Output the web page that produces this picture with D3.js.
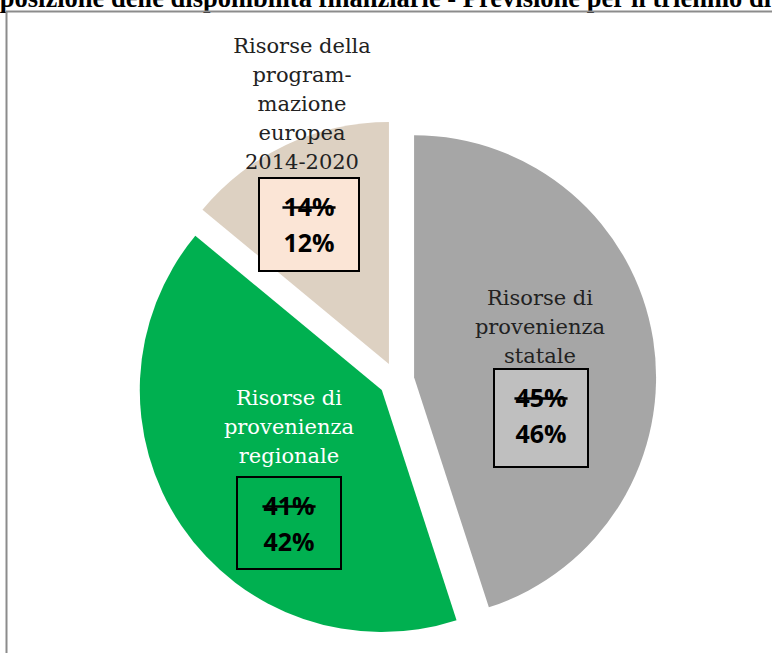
<html>
<script src='https://d3js.org/d3.v7.min.js'></script>
<style>
body {margin:0; background:#fff;}
.lbl {font-family:'DejaVu Serif', serif; font-size:21px; text-anchor:middle;}
.pct {font-family:'Open Sans', sans-serif; font-weight:bold; font-size:25px; text-anchor:middle; fill:#000;}
</style>
<body onload='init()'>
<svg width=772 height=653></svg>
<script>
// data
var categories = ['statale', 'regionale', 'europea']
var oldShares = [45, 41, 14]   // the slices are drawn from these
var newShares = [46, 42, 12]
var labelLines = [
  ['Risorse di', 'provenienza', 'statale'],
  ['Risorse di', 'provenienza', 'regionale'],
  ['Risorse della', 'program-', 'mazione', 'europea', '2014-2020']
]
var colors = ['#a6a6a6', '#00b050', '#ddd1c2']
var boxFill = ['#bfbfbf', '#00b050', '#fbe5d6']
var textFill = ['#222', '#fff', '#222']

function init() {
  var svg = d3.select('svg')
  var cx = 396.5, cy = 380, r = 242, explode = 17.8

  // title, clipped at the top of the window as in the source
  svg.append('text')
    .attr('x', 771).attr('y', 7)
    .attr('text-anchor', 'end')
    .style('font-family', "'Liberation Serif', serif")
    .style('font-weight', 'bold').style('font-size', '26.5px')
    .text('Composizione delle disponibilità finanziarie - Previsione per il triennio di')

  // frame
  svg.append('path')
    .attr('d', 'M6.5,653 V11.5 H772')
    .attr('fill', 'none').attr('stroke', '#8c8c8c').attr('stroke-width', 2)

  var pie = d3.pie().sort(null).value(function(d){return d})
  var arc = d3.arc().innerRadius(0).outerRadius(r)
  var arcs = pie(oldShares)

  var g = svg.append('g').attr('transform', 'translate(' + cx + ',' + cy + ')')
  g.selectAll('path').data(arcs).enter().append('path')
    .attr('d', arc)
    .attr('fill', function(d, i){return colors[i]})
    .attr('transform', function(d){
      var a = (d.startAngle + d.endAngle) / 2
      return 'translate(' + (Math.sin(a) * explode) + ',' + (-Math.cos(a) * explode) + ')'
    })

  // label layout: text centre, first baseline, box rect
  var layout = [
    {x: 540, y: 305, box: [494, 369, 94, 98]},
    {x: 289, y: 405, box: [237, 477, 104, 92]},
    {x: 302, y: 53, box: [259, 178, 100, 93]}
  ]
  var lineH = 29

  categories.forEach(function(c, i) {
    var L = layout[i]
    var lg = svg.append('g').attr('class', 'label-' + c)
    labelLines[i].forEach(function(t, k) {
      lg.append('text').attr('class', 'lbl')
        .attr('x', L.x).attr('y', L.y + k * lineH)
        .attr('fill', textFill[i]).text(t)
    })
    lg.append('rect')
      .attr('x', L.box[0]).attr('y', L.box[1])
      .attr('width', L.box[2]).attr('height', L.box[3])
      .attr('fill', boxFill[i]).attr('stroke', '#000').attr('stroke-width', 2)
    var bx = L.box[0] + L.box[2] / 2
    var oldT = lg.append('text').attr('class', 'pct')
      .attr('x', bx).attr('y', L.box[1] + 38)
      .text(oldShares[i] + '%')
    var w = oldT.node().getComputedTextLength()
    lg.append('line')
      .attr('x1', bx - w / 2 - 1).attr('x2', bx + w / 2 + 1)
      .attr('y1', L.box[1] + 29.5).attr('y2', L.box[1] + 29.5)
      .attr('stroke', '#000').attr('stroke-width', 2.4)
    lg.append('text').attr('class', 'pct')
      .attr('x', bx).attr('y', L.box[1] + 74)
      .text(newShares[i] + '%')
  })
}
</script>
</body>
</html>
